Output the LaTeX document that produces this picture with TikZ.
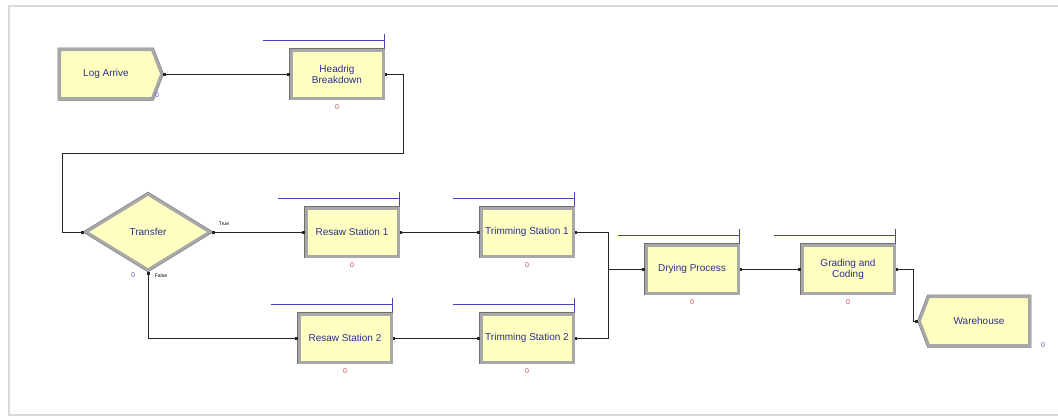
\documentclass[tikz,border=0pt]{standalone}
\usepackage{fontspec}
\setmainfont{Liberation Sans}
\usepackage{tikz}
\usetikzlibrary{arrows.meta,positioning,calc,shapes.geometric,shapes.symbols}
\definecolor{modfill}{HTML}{FFFFC2}
\definecolor{modedge}{HTML}{A8A8A8}
\definecolor{modshade}{HTML}{707070}
\definecolor{modtext}{HTML}{2E2E8C}
\definecolor{barblue}{HTML}{4646B4}
\definecolor{cntred}{HTML}{C44848}
\definecolor{cntblue}{HTML}{5A5AC8}
\definecolor{framegray}{HTML}{DADADA}

\begin{document}
\begin{tikzpicture}[x=1pt,y=-1pt,font=\fontsize{10}{11}\selectfont,
  module/.style={draw=modedge,line width=3pt,preaction={draw=modshade,line width=4pt},
    fill=modfill,text=modtext,align=center,inner sep=1pt},
  process/.style={module,minimum width=92pt,minimum height=48pt},
  link/.style={line width=.8pt,black!85,{Square[length=2.6pt,width=2.6pt]}-{Square[length=2.6pt,width=2.6pt]}},
  qbar/.style={barblue,line width=1.1pt},
  cnt/.style={font=\fontsize{7}{8}\selectfont,inner sep=0pt}]
  \useasboundingbox (0,0) rectangle (1058,418);
  \fill[white] (0,0) rectangle (1058,418);
  \draw[framegray,line width=1.6pt] (1070,6) -- (9,6) -- (9,415) -- (1070,415);
  % modules
  \node[module,signal,signal to=east,signal pointer angle=138,minimum width=102pt,minimum height=49pt] (logarrive) at (106,74) {Log Arrive};
  \node[process] (headrig) at (337,74) {Headrig\\Breakdown};
  \node[module,diamond,minimum width=125pt,minimum height=77pt,inner sep=0pt] (transfer) at (148,232) {Transfer};
  \node[process] (resaw1) at (352,232) {Resaw Station 1};
  \node[process] (trim1) at (527,232) {Trimming Station 1};
  \node[process] (resaw2) at (345,338) {Resaw Station 2};
  \node[process] (trim2) at (527,338) {Trimming Station 2};
  \node[process] (drying) at (692,269) {Drying Process};
  \node[process] (grading) at (848,269) {Grading and\\Coding};
  \node[module,signal,signal to=west,signal pointer angle=138,minimum width=110pt,minimum height=49pt] (warehouse) at (979,321) {Warehouse};
  % queues and counters
  \foreach \n in {headrig,resaw1,trim1,resaw2,trim2,drying,grading}{
    \draw[qbar] ($(\n.north east)+(-122,-8)$) -- ($(\n.north east)+(0,-8)$);
    \draw[qbar] ($(\n.north east)+(0,-15)$) -- ($(\n.north east)+(0,-1)$);
    \node[cnt,cntred,below=5pt of \n.south] (\n count) {0};}
  \node[cnt,cntblue] (arrivecount) at (157,95) {0};
  \node[cnt,cntblue] (transfercount) at (133,275) {0};
  \node[cnt,cntblue] (warehousecount) at (1043,345) {0};
  \node[font=\fontsize{5}{6}\selectfont,inner sep=0pt] (truelbl) at (224,224) {True};
  \node[font=\fontsize{5}{6}\selectfont,inner sep=0pt] (falselbl) at (161,276) {False};
  % connectors
  \coordinate (loopback) at (62,153);
  \draw[link] (logarrive.east) -- (headrig.west);
  \draw[link] (headrig.east) -- ++(19,0) |- (loopback) |- (transfer.west);
  \draw[link] (transfer.east) -- (resaw1.west);
  \draw[link] (transfer.south) |- (resaw2.west);
  \draw[link] (resaw1.east) -- (trim1.west);
  \draw[link] (resaw2.east) -- (trim2.west);
  \draw[link] (trim1.east) -- ++(34,0) |- (drying.west);
  \draw[link] (trim2.east) -- ++(34,0) |- (drying.west);
  \draw[link] (drying.east) -- (grading.west);
  \draw[link] (grading.east) -- ++(18,0) |- (warehouse.west);
\end{tikzpicture}
\end{document}
